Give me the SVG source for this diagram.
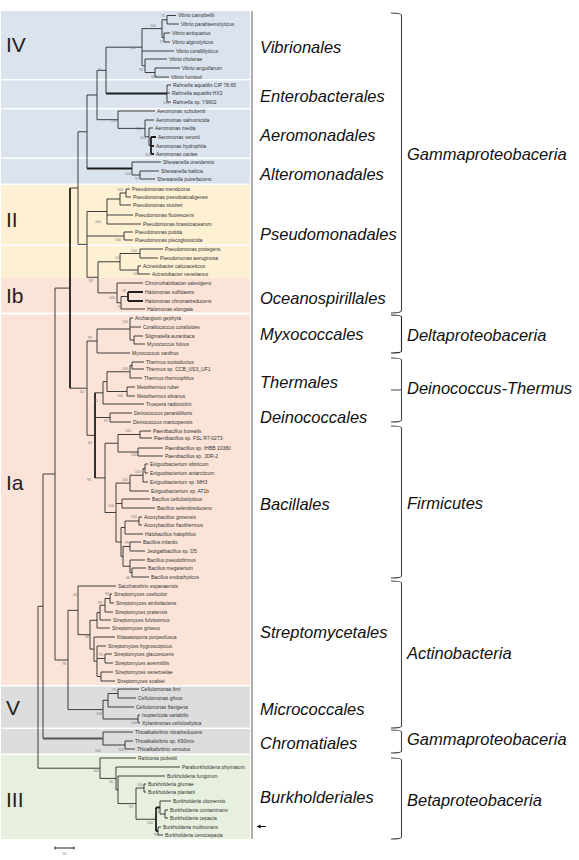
<svg xmlns="http://www.w3.org/2000/svg" width="579" height="860" viewBox="0 0 579 860">
<style>
.br{fill:none;stroke:#2b2b2b;stroke-width:0.9}
.thk{fill:none;stroke:#1e1e1e;stroke-width:1.8}
.lf{font-family:"Liberation Sans",Arial,sans-serif;font-size:5px;fill:#333}
.bs{font-family:"Liberation Sans",Arial,sans-serif;font-size:3.5px;fill:#777}
.rn{font-family:"Liberation Sans",Arial,sans-serif;font-size:21px;fill:#222}
.ord{font-family:"Liberation Sans",Arial,sans-serif;font-style:italic;font-size:16.5px;fill:#111}
.brk{fill:none;stroke:#444;stroke-width:1.1}
.blue{fill:#dbe3ef}.yel{fill:#fdf0d3}.pink{fill:#fbe4d7}.gray{fill:#dddddd}.green{fill:#e7f0de}
</style>
<rect x="0" y="0" width="579" height="860" fill="#ffffff"/>
<g id="bands">
<rect class="blue" x="1" y="11" width="249" height="68"/>
<rect class="blue" x="1" y="80.5" width="249" height="27.5"/>
<rect class="blue" x="1" y="109.5" width="249" height="48"/>
<rect class="blue" x="1" y="159" width="249" height="24.5"/>
<rect class="yel" x="1" y="185" width="249" height="59.5"/>
<rect class="yel" x="1" y="246" width="249" height="32"/>
<rect class="pink" x="1" y="278" width="249" height="34.5"/>
<rect class="pink" x="1" y="314.5" width="249" height="370.5"/>
<rect class="gray" x="1" y="686.5" width="249" height="41"/>
<rect class="gray" x="1" y="729" width="249" height="24.5"/>
<rect class="green" x="1" y="755" width="249" height="84"/>
<line x1="252" y1="11" x2="252" y2="839" stroke="#9a9a9a" stroke-width="1.6"/>
</g>
<g id="group-labels">
<text class="rn" x="6" y="52">IV</text>
<text class="rn" x="6" y="227">II</text>
<text class="rn" x="6" y="303">Ib</text>
<text class="rn" x="6" y="490">Ia</text>
<text class="rn" x="6" y="715">V</text>
<text class="rn" x="6" y="807">III</text>
</g>
<g id="connectors">
<path class="br" d="M167 15.5V24M167 15.5H176M167 24H179M164 33V42M164 33H170M164 42H170M162 19.75V37.5M162 19.75H167M162 37.5H164M155 68V77M155 68H180M155 77H169M145 59V72.5M145 59H167M145 72.5H155M142 28.6V65.75M142 28.6H162M142 51H174M142 65.75H145M167 85V102M167 85H171M167 93H170M167 102H171M106 47.2V93.5M106 47.2H142"/>
<path class="thk" d="M106 93.5H167"/>
<path class="br" d="M149 128V145.5M149 128H153M149 145.5H151M145 120V136.75M145 120H154M145 136.75H149M118 111V128.4M118 111H155M118 128.4H145M97 70.35V119.7M97 70.35H106M97 119.7H118"/>
<path class="thk" d="M151 137V154M151 137H156M151 146H154M151 154H154"/>
<path class="br" d="M140 171V179M140 171H159M140 179H155M132 162V175M132 162H161M132 175H140M87 95V168.5M87 95H97"/>
<path class="thk" d="M87 168.5H132"/>
<path class="br" d="M126 189V197M126 189H130M126 197H131M120 193V205M120 193H126M120 205H131M107 199V224M107 199H120M107 215H133M107 224H141M124 232V240M124 232H133M124 240H133M140 249V258M140 249H163M140 258H158M138 266V274M138 266H141M138 274H150M120 253.5V270M120 253.5H140M120 270H138M121 296.5V309M121 296.5H128M121 309H145M117 283V302.75M117 283H143M117 302.75H121M98 261.75V292.9M98 261.75H120M98 292.9H117M87 211.5V277.3M87 211.5H107M87 236H124M87 277.3H98M78 131.75V244.4M78 131.75H87M78 244.4H87"/>
<path class="thk" d="M128 292V301M128 292H143M128 301H143"/>
<path class="br" d="M134 336V344M134 336H143M134 344H145M130 318V340M130 318H133M130 327H141M130 340H134M97 329V353M97 329H130M97 353H130"/>
<path class="br" d="M132 362V369M132 362H144M132 369H144M130 365.5V378M130 365.5H132M130 378H142M127 387V396M127 387H135M127 396H135M107 371.75V391.5M107 371.75H130M107 391.5H127M103 381.6V404M103 381.6H107M103 404H144M110 413V422M110 413H132M110 422H131"/>
<path class="br" d="M140 431V438M140 431H151M140 438H152M138 448V456M138 448H163M138 456H163M118 434.5V452M118 434.5H140M118 452H138M145 464V473M145 464H148M145 473H148M143 468.5V482M143 468.5H145M143 482H148M130 475.25V491M130 475.25H143M130 491H149M122 499V508M122 499H150M122 508H155M139 517V525M139 517H142M139 525H142M125 521V534M125 521H139M125 534H143M130 542V551M130 542H141M130 551H145M132 568V577M132 568H146M132 577H149M130 560V572.5M130 560H145M130 572.5H132M123 546.5V566.25M123 546.5H130M123 566.25H130M121 527.5V556.4M121 527.5H125M121 556.4H123M116 483.1V542M116 483.1H130M116 503.5H122M116 542H121M105 443.25V512.5M105 443.25H118M105 512.5H116M95 392.8H103M95 417.5H110M95 477.9H105M87 341V435.35M87 341H97M87 435.35H95M70 188H78M70 388.2H87"/>
<path class="thk" d="M95 392.8V477.9M70 188V388.2"/>
<path class="br" d="M110 594V603M110 594H112M110 603H114M105 598.5V612M105 598.5H110M105 612H113M100 605.25V620M100 605.25H105M100 620H111M97 612.6V628M97 612.6H100M97 628H110M105 654V663M105 654H112M105 663H113M101 672V681M101 672H113M101 681H115M97 646V676.5M97 646H106M97 658.5H105M97 676.5H101M94 637V661.25M94 637H115M94 661.25H97M90 620.3V649.1M90 620.3H97M90 649.1H94M78 586V634.7M78 586H116M78 634.7H90"/>
<path class="br" d="M118 689V698M118 689H139M118 698H136M108 693.5V707M108 693.5H118M108 707H134M138 715V723M138 715H140M138 723H140M103 700.25V719M103 700.25H108M103 719H138M68 610.35V709.6M68 610.35H78M68 709.6H103M55 288.1V660M55 288.1H70M55 660H68"/>
<path class="br" d="M125 741V749M125 741H133M125 749H135M103 732V745M103 732H133M103 745H125M43 474V738.5M43 474H55"/>
<path class="thk" style="stroke:#555" d="M43 738.5H103"/>
<path class="br" d="M144 784V792M144 784H146M144 792H146M165 810V818M165 810H168M165 818H168M160 801V814M160 801H171M160 814H165M158 827V835M158 827H161M158 835H163M136 788V819.25M136 788H144M136 819.25H156M118 776V803.6M118 776H165M118 803.6H136M116 767V789.8M116 767H180M116 789.8H118M100 758V778.4M100 758H136M100 778.4H116M38 606.25V768.2M38 606.25H43M38 768.2H100"/>
<path class="thk" d="M156 807.5V831M156 807.5H160M156 831H158"/>
</g>
<g id="bootstrap">
<text class="bs" x="161" y="17">75</text><text class="bs" x="150" y="27">100</text><text class="bs" x="160" y="43">97</text><text class="bs" x="130" y="49">100</text><text class="bs" x="139" y="71">93</text><text class="bs" x="151" y="78">100</text><text class="bs" x="98" y="71">71</text><text class="bs" x="163" y="104">100</text>
<text class="bs" x="111" y="122">100</text><text class="bs" x="136" y="130">100</text><text class="bs" x="140" y="139">100</text><text class="bs" x="145" y="156">100</text><text class="bs" x="125" y="175">100</text><text class="bs" x="135" y="180">97</text>
<text class="bs" x="117" y="191">100</text><text class="bs" x="95" y="223">100</text><text class="bs" x="115" y="241">100</text><text class="bs" x="131" y="252">100</text><text class="bs" x="115" y="259">100</text><text class="bs" x="133" y="275">100</text><text class="bs" x="89" y="282">83</text><text class="bs" x="122" y="292">76</text><text class="bs" x="109" y="299">100</text><text class="bs" x="118" y="308">97</text>
<text class="bs" x="122" y="323">100</text><text class="bs" x="88" y="339">99</text><text class="bs" x="122" y="370">100</text><text class="bs" x="117" y="397">100</text><text class="bs" x="80" y="393">64</text><text class="bs" x="94" y="402">71</text><text class="bs" x="104" y="422">97</text>
<text class="bs" x="125" y="432">100</text><text class="bs" x="131" y="456">100</text><text class="bs" x="135" y="473">100</text><text class="bs" x="122" y="481">100</text><text class="bs" x="108" y="507">100</text><text class="bs" x="87" y="481">96</text><text class="bs" x="88" y="444">64</text><text class="bs" x="131" y="518">100</text>
<text class="bs" x="125" y="544">99</text><text class="bs" x="126" y="579">66</text><text class="bs" x="73" y="596">44</text><text class="bs" x="105" y="595">96</text><text class="bs" x="98" y="604">99</text>
<text class="bs" x="85" y="638">86</text><text class="bs" x="99" y="656">93</text><text class="bs" x="62" y="665">78</text><text class="bs" x="112" y="691">73</text><text class="bs" x="96" y="715">100</text><text class="bs" x="131" y="724">100</text>
<text class="bs" x="95" y="752">100</text><text class="bs" x="118" y="751">100</text><text class="bs" x="93" y="772">100</text><text class="bs" x="109" y="783">56</text><text class="bs" x="137" y="786">100</text><text class="bs" x="129" y="808">92</text><text class="bs" x="155" y="813">84</text><text class="bs" x="147" y="824">100</text><text class="bs" x="154" y="836">91</text>
</g>
<g id="leaves">
<g id="leaf-v1"><text class="lf" x="178" y="17.3">Vibrio campbellii</text></g>
<g id="leaf-v2"><text class="lf" x="181" y="25.8">Vibrio parahaemolyticus</text></g>
<g id="leaf-v3"><text class="lf" x="172" y="34.8">Vibrio antiquarius</text></g>
<g id="leaf-v4"><text class="lf" x="172" y="43.8">Vibrio alginolyticus</text></g>
<g id="leaf-v5"><text class="lf" x="176" y="52.8">Vibrio coralliilyticus</text></g>
<g id="leaf-v6"><text class="lf" x="169" y="60.8">Vibrio cholerae</text></g>
<g id="leaf-v7"><text class="lf" x="182" y="69.8">Vibrio anguillarum</text></g>
<g id="leaf-v8"><text class="lf" x="171" y="78.8">Vibrio furnissii</text></g>
<g id="leaf-r1"><text class="lf" x="173" y="86.8">Rahnella aquatilis CIP 78.65</text></g>
<g id="leaf-r2"><text class="lf" x="172" y="94.8">Rahnella aquatilis HX2</text></g>
<g id="leaf-r3"><text class="lf" x="173" y="103.8">Rahnella sp. Y9602</text></g>
<g id="leaf-a1"><text class="lf" x="157" y="112.8">Aeromonas schubertii</text></g>
<g id="leaf-a2"><text class="lf" x="156" y="121.8">Aeromonas salmonicida</text></g>
<g id="leaf-a3"><text class="lf" x="155" y="129.8">Aeromonas media</text></g>
<g id="leaf-a4"><text class="lf" x="158" y="138.8">Aeromonas veronii</text></g>
<g id="leaf-a5"><text class="lf" x="156" y="147.8">Aeromonas hydrophila</text></g>
<g id="leaf-a6"><text class="lf" x="156" y="155.8">Aeromonas caviae</text></g>
<g id="leaf-s1"><text class="lf" x="163" y="163.8">Shewanella oneidensis</text></g>
<g id="leaf-s2"><text class="lf" x="161" y="172.8">Shewanella baltica</text></g>
<g id="leaf-s3"><text class="lf" x="157" y="180.8">Shewanella putrefaciens</text></g>
<g id="leaf-p1"><text class="lf" x="132" y="190.8">Pseudomonas mendocina</text></g>
<g id="leaf-p2"><text class="lf" x="133" y="198.8">Pseudomonas pseudoalcaligenes</text></g>
<g id="leaf-p3"><text class="lf" x="133" y="206.8">Pseudomonas stutzeri</text></g>
<g id="leaf-p4"><text class="lf" x="135" y="216.8">Pseudomonas fluorescens</text></g>
<g id="leaf-p5"><text class="lf" x="143" y="225.8">Pseudomonas brassicacearum</text></g>
<g id="leaf-p6"><text class="lf" x="135" y="233.8">Pseudomonas putida</text></g>
<g id="leaf-p7"><text class="lf" x="135" y="241.8">Pseudomonas plecoglossicida</text></g>
<g id="leaf-p8"><text class="lf" x="165" y="250.8">Pseudomonas protegens</text></g>
<g id="leaf-p9"><text class="lf" x="160" y="259.8">Pseudomonas aeruginosa</text></g>
<g id="leaf-p10"><text class="lf" x="143" y="267.8">Acinetobacter calcoaceticus</text></g>
<g id="leaf-p11"><text class="lf" x="152" y="275.8">Acinetobacter venetianus</text></g>
<g id="leaf-o1"><text class="lf" x="145" y="284.8">Chromohalobacter salexigens</text></g>
<g id="leaf-o2"><text class="lf" x="145" y="293.8">Halomonas sulfidaeris</text></g>
<g id="leaf-o3"><text class="lf" x="145" y="302.8">Halomonas chromatireducens</text></g>
<g id="leaf-o4"><text class="lf" x="147" y="310.8">Halomonas elongata</text></g>
<g id="leaf-m1"><text class="lf" x="135" y="319.8">Archangium gephyra</text></g>
<g id="leaf-m2"><text class="lf" x="143" y="328.8">Corallococcus coralloides</text></g>
<g id="leaf-m3"><text class="lf" x="145" y="337.8">Stigmatella aurantiaca</text></g>
<g id="leaf-m4"><text class="lf" x="147" y="345.8">Myxococcus fulvus</text></g>
<g id="leaf-m5"><text class="lf" x="132" y="354.8">Myxococcus xanthus</text></g>
<g id="leaf-t1"><text class="lf" x="146" y="363.8">Thermus scotoductus</text></g>
<g id="leaf-t2"><text class="lf" x="146" y="370.8">Thermus sp. CCB_US3_UF1</text></g>
<g id="leaf-t3"><text class="lf" x="144" y="379.8">Thermus thermophilus</text></g>
<g id="leaf-t4"><text class="lf" x="137" y="388.8">Meiothermus ruber</text></g>
<g id="leaf-t5"><text class="lf" x="137" y="397.8">Meiothermus silvanus</text></g>
<g id="leaf-t6"><text class="lf" x="146" y="405.8">Truepera radiovictrix</text></g>
<g id="leaf-d1"><text class="lf" x="134" y="414.8">Deinococcus peraridilitoris</text></g>
<g id="leaf-d2"><text class="lf" x="133" y="423.8">Deinococcus maricopensis</text></g>
<g id="leaf-f1"><text class="lf" x="153" y="432.8">Paenibacillus borealis</text></g>
<g id="leaf-f2"><text class="lf" x="154" y="439.8">Paenibacillus sp. FSL R7-0273</text></g>
<g id="leaf-f3"><text class="lf" x="165" y="449.8">Paenibacillus sp. IHBB 10380</text></g>
<g id="leaf-f4"><text class="lf" x="165" y="457.8">Paenibacillus sp. JDR-2</text></g>
<g id="leaf-e1"><text class="lf" x="150" y="465.8">Exiguobacterium sibiricum</text></g>
<g id="leaf-e2"><text class="lf" x="150" y="474.8">Exiguobacterium antarcticum</text></g>
<g id="leaf-e3"><text class="lf" x="150" y="483.8">Exiguobacterium sp. MH3</text></g>
<g id="leaf-e4"><text class="lf" x="151" y="492.8">Exiguobacterium sp. AT1b</text></g>
<g id="leaf-b1"><text class="lf" x="152" y="500.8">Bacillus cellulosilyticus</text></g>
<g id="leaf-b2"><text class="lf" x="157" y="509.8">Bacillus selenitireducens</text></g>
<g id="leaf-b3"><text class="lf" x="144" y="518.8">Anoxybacillus gonensis</text></g>
<g id="leaf-b4"><text class="lf" x="144" y="526.8">Anoxybacillus flavithermus</text></g>
<g id="leaf-b5"><text class="lf" x="145" y="535.8">Halobacillus halophilus</text></g>
<g id="leaf-b6"><text class="lf" x="143" y="543.8">Bacillus infantis</text></g>
<g id="leaf-b7"><text class="lf" x="147" y="552.8">Jeotgalibacillus sp. D5</text></g>
<g id="leaf-b8"><text class="lf" x="147" y="561.8">Bacillus pseudofirmus</text></g>
<g id="leaf-b9"><text class="lf" x="148" y="569.8">Bacillus megaterium</text></g>
<g id="leaf-b10"><text class="lf" x="151" y="578.8">Bacillus endophyticus</text></g>
<g id="leaf-st1"><text class="lf" x="118" y="587.8">Saccharothrix espanaensis</text></g>
<g id="leaf-st2"><text class="lf" x="114" y="595.8">Streptomyces coelicolor</text></g>
<g id="leaf-st3"><text class="lf" x="116" y="604.8">Streptomyces ambofaciens</text></g>
<g id="leaf-st4"><text class="lf" x="115" y="613.8">Streptomyces pratensis</text></g>
<g id="leaf-st5"><text class="lf" x="113" y="621.8">Streptomyces fulvissimus</text></g>
<g id="leaf-st6"><text class="lf" x="112" y="629.8">Streptomyces griseus</text></g>
<g id="leaf-st7"><text class="lf" x="117" y="638.8">Kitasatospora purpeofusca</text></g>
<g id="leaf-st8"><text class="lf" x="108" y="647.8">Streptomyces hygroscopicus</text></g>
<g id="leaf-st9"><text class="lf" x="114" y="655.8">Streptomyces glaucescens</text></g>
<g id="leaf-st10"><text class="lf" x="115" y="664.8">Streptomyces avermitilis</text></g>
<g id="leaf-st11"><text class="lf" x="115" y="673.8">Streptomyces venezuelae</text></g>
<g id="leaf-st12"><text class="lf" x="117" y="682.8">Streptomyces scabiei</text></g>
<g id="leaf-mc1"><text class="lf" x="141" y="690.8">Cellulomonas fimi</text></g>
<g id="leaf-mc2"><text class="lf" x="138" y="699.8">Cellulomonas gilvus</text></g>
<g id="leaf-mc3"><text class="lf" x="136" y="708.8">Cellulomonas flavigena</text></g>
<g id="leaf-mc4"><text class="lf" x="142" y="716.8">Isoptericola variabilis</text></g>
<g id="leaf-mc5"><text class="lf" x="142" y="724.8">Xylanimonas cellulosilytica</text></g>
<g id="leaf-ch1"><text class="lf" x="135" y="733.8">Thioalkalivibrio nitratireducens</text></g>
<g id="leaf-ch2"><text class="lf" x="135" y="742.8">Thioalkalivibrio sp. K90mix</text></g>
<g id="leaf-ch3"><text class="lf" x="137" y="750.8">Thioalkalivibrio versutus</text></g>
<g id="leaf-bu1"><text class="lf" x="138" y="759.8">Ralstonia pickettii</text></g>
<g id="leaf-bu2"><text class="lf" x="182" y="768.8">Paraburkholderia phymatum</text></g>
<g id="leaf-bu3"><text class="lf" x="167" y="777.8">Burkholderia fungorum</text></g>
<g id="leaf-bu4"><text class="lf" x="148" y="785.8">Burkholderia glumae</text></g>
<g id="leaf-bu5"><text class="lf" x="148" y="793.8">Burkholderia plantarii</text></g>
<g id="leaf-bu6"><text class="lf" x="173" y="802.8">Burkholderia ubonensis</text></g>
<g id="leaf-bu7"><text class="lf" x="170" y="811.8">Burkholderia contaminans</text></g>
<g id="leaf-bu8"><text class="lf" x="170" y="819.8">Burkholderia cepacia</text></g>
<g id="leaf-bu9"><text class="lf" x="163" y="828.8">Burkholderia multivorans</text></g>
<g id="leaf-bu10"><text class="lf" x="165" y="836.8">Burkholderia cenocepacia</text></g>
</g>
<g id="orders">
<text class="ord" x="260" y="53">Vibrionales</text>
<text class="ord" x="260" y="102">Enterobacterales</text>
<text class="ord" x="260" y="141">Aeromonadales</text>
<text class="ord" x="260" y="180">Alteromonadales</text>
<text class="ord" x="260" y="240">Pseudomonadales</text>
<text class="ord" x="260" y="304">Oceanospirillales</text>
<text class="ord" x="260" y="340">Myxococcales</text>
<text class="ord" x="260" y="388">Thermales</text>
<text class="ord" x="260" y="423">Deinococcales</text>
<text class="ord" x="260" y="510">Bacillales</text>
<text class="ord" x="260" y="638">Streptomycetales</text>
<text class="ord" x="260" y="715">Micrococcales</text>
<text class="ord" x="260" y="749">Chromatiales</text>
<text class="ord" x="260" y="803">Burkholderiales</text>
</g>
<g id="brackets">
<path class="brk" d="M391 13Q401.5 13 401.5 15.5V310.5Q401.5 313 391 313"/>
<path class="brk" style="stroke:#222" d="M391 315Q401.5 315 401.5 317V351Q401.5 353 391 353"/>
<path class="brk" d="M391 358Q401.5 358 401.5 360V420Q401.5 422 391 422M391 390H401.5"/>
<path class="brk" d="M391 426Q401.5 426 401.5 428V576Q401.5 578 391 578"/>
<path class="brk" d="M391 581Q401.5 581 401.5 583V726Q401.5 728 391 728"/>
<path class="brk" d="M391 730Q401.5 730 401.5 732V751Q401.5 753 391 753"/>
<path class="brk" d="M391 758Q401.5 758 401.5 760V837Q401.5 839 391 839"/>
</g>
<g id="classes">
<text class="ord" x="407" y="160">Gammaproteobaceria</text>
<text class="ord" x="407" y="341">Deltaproteobaceria</text>
<text class="ord" x="407" y="394">Deinococcus-Thermus</text>
<text class="ord" x="407" y="509">Firmicutes</text>
<text class="ord" x="407" y="659">Actinobacteria</text>
<text class="ord" x="407" y="745">Gammaproteobaceria</text>
<text class="ord" x="407" y="806">Betaproteobaceria</text>
</g>
<g id="marker-arrow">
<path d="M266 826.5H259" stroke="#111" stroke-width="1"/>
<polygon points="256.5,826.5 260.5,824.6 260.5,828.4" fill="#111"/>
</g>
<g id="scale-bar">
<path d="M55 848H74M55 846.5V849.5M74 846.5V849.5" stroke="#222" stroke-width="1" fill="none"/>
<text class="bs" x="64.5" y="855" text-anchor="middle">50</text>
</g>
</svg>
